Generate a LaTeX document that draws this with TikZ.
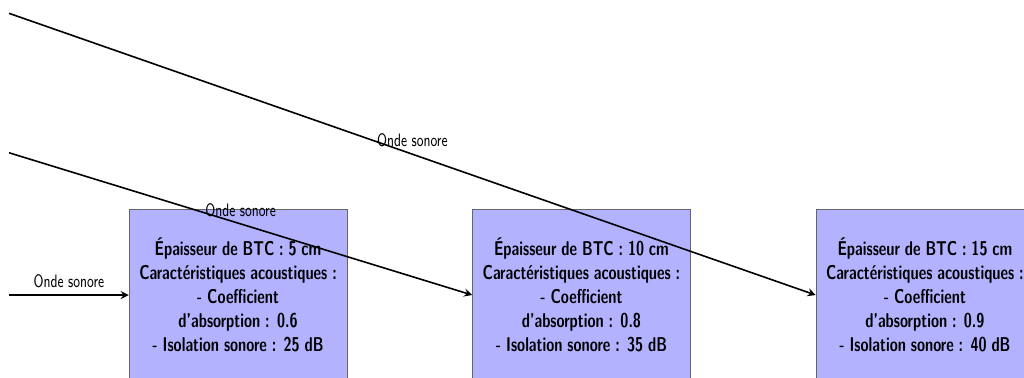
\documentclass[tikz,border=0pt]{standalone}
\usepackage{fontspec}

\tikzset{
	btcbox/.style={draw=black!60, fill=blue!30, text width=5cm, align=center, minimum height=3cm, font=\sffamily\bfseries},
	onde/.style={-stealth, thick},
	ondelabel/.style={above, font=\small\sffamily}
}

\begin{document}
\begin{tikzpicture}[xscale=0.7315, transform shape]
		\useasboundingbox (-5.717,-1.441) rectangle (18.88,5.184);

		% murs en BTC
		\node[btcbox] (btc5) at (0,0) {Épaisseur de BTC : 5 cm\\ Caractéristiques acoustiques :\\ - Coefficient\\ d'absorption : 0.6\\ - Isolation sonore : 25 dB};
		\node[btcbox] (btc10) at (8.25,0) {Épaisseur de BTC : 10 cm\\ Caractéristiques acoustiques :\\ - Coefficient\\ d'absorption : 0.8\\ - Isolation sonore : 35 dB};
		\node[btcbox] (btc15) at (16.5,0) {Épaisseur de BTC : 15 cm\\ Caractéristiques acoustiques :\\ - Coefficient\\ d'absorption : 0.9\\ - Isolation sonore : 40 dB};

		% ondes
		\coordinate (src1) at (-5.5,0);
		\coordinate (src2) at (-5.5,2.5);
		\coordinate (src3) at (-5.5,4.95);

		\draw[onde] (src1) -- node[ondelabel] {Onde sonore} (btc5.west);
		\draw[onde] (src2) -- node[ondelabel] {Onde sonore} (btc10.west);
		\draw[onde] (src3) -- node[ondelabel] {Onde sonore} (btc15.west);
	\end{tikzpicture}
\end{document}
